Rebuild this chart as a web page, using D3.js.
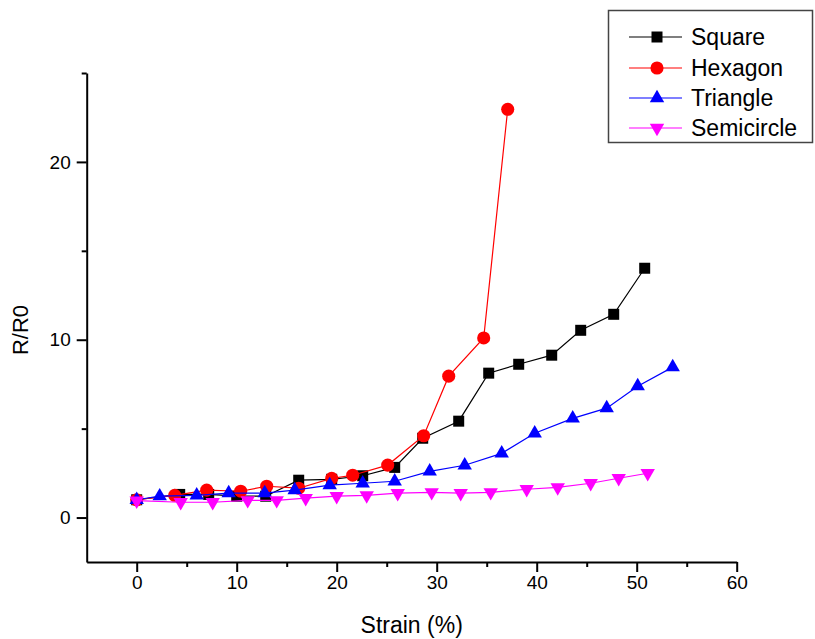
<!DOCTYPE html>
<html>
<head>
<meta charset="utf-8">
<script src="https://cdn.jsdelivr.net/npm/d3@7"></script>
<style>
  body { margin: 0; background: #fff; }
  text { font-family: 'Liberation Sans', Arial, sans-serif; fill: #000; }
  .axis path, .axis line { stroke: #000; stroke-width: 2; }
  .minor path { display: none; }
</style>
</head>
<body>
<div id="chart"></div>
<script>
// Data (strain %, R/R0)
const squareStrain = [0, 4.3, 7.2, 10.0, 12.9, 16.2, 19.5, 22.6, 25.8, 28.6, 32.2, 35.2, 38.2, 41.5, 44.4, 47.7, 50.8];
const squareR = [1.0, 1.3, 1.3, 1.2, 1.2, 2.1, 2.15, 2.35, 2.82, 4.46, 5.42, 8.12, 8.62, 9.13, 10.53, 11.43, 14.02];

const hexagonStrain = [0, 3.8, 7.0, 10.4, 13.0, 16.2, 19.5, 21.6, 25.1, 28.7, 31.2, 34.7, 37.1];
const hexagonR = [1.0, 1.25, 1.54, 1.48, 1.76, 1.65, 2.2, 2.38, 2.95, 4.6, 7.95, 10.1, 22.96];

const triangleStrain = [0, 2.3, 6.0, 9.2, 12.8, 15.8, 19.3, 22.6, 25.8, 29.3, 32.8, 36.5, 39.8, 43.6, 47.0, 50.1, 53.6];
const triangleR = [1.0, 1.2, 1.25, 1.37, 1.37, 1.54, 1.82, 1.93, 2.04, 2.6, 2.94, 3.61, 4.74, 5.58, 6.15, 7.39, 8.46];

const semicircleStrain = [0, 4.4, 7.6, 11.1, 14.0, 16.9, 20.0, 23.0, 26.1, 29.5, 32.4, 35.4, 39.0, 42.1, 45.4, 48.2, 51.1];
const semicircleR = [0.95, 0.86, 0.86, 0.97, 0.97, 1.09, 1.2, 1.25, 1.37, 1.42, 1.37, 1.42, 1.59, 1.7, 1.93, 2.21, 2.49];

const seriesNames = ['Square', 'Hexagon', 'Triangle', 'Semicircle'];
const seriesColors = ['#000000', '#ff0000', '#0000ff', '#ff00ff'];

const xMajorTicks = [0, 10, 20, 30, 40, 50, 60];
const xMinorTicks = [5, 15, 25, 35, 45, 55];
const yMajorTicks = [0, 10, 20];
const yMinorTicks = [5, 15, 25];

function draw() {
  // Dimensions
  const dimensions = {
    width: 815,
    height: 639,
    left: 86.7,
    right: 736.7,
    top: 73,
    bottom: 562,
  };

  const series = [
    { name: seriesNames[0], color: seriesColors[0], symbol: d3.symbolSquare, size: 121, rotate: 0, x: squareStrain, y: squareR },
    { name: seriesNames[1], color: seriesColors[1], symbol: d3.symbolCircle, size: 135, rotate: 0, x: hexagonStrain, y: hexagonR },
    { name: seriesNames[2], color: seriesColors[2], symbol: d3.symbolTriangle, size: 90, rotate: 0, x: triangleStrain, y: triangleR },
    { name: seriesNames[3], color: seriesColors[3], symbol: d3.symbolTriangle, size: 90, rotate: 180, x: semicircleStrain, y: semicircleR },
  ];

  const svg = d3
    .select('#chart')
    .append('svg')
    .attr('width', dimensions.width)
    .attr('height', dimensions.height);

  // Scales
  const xScale = d3.scaleLinear().domain([-5, 60]).range([dimensions.left, dimensions.right]);
  const yScale = d3.scaleLinear().domain([-2.5, 25]).range([dimensions.bottom, dimensions.top]);

  // Axes
  const xAxisGroup = svg
    .append('g')
    .attr('class', 'axis')
    .attr('transform', `translate(0, ${dimensions.bottom})`)
    .call(d3.axisBottom(xScale).tickValues(xMajorTicks).tickSize(10).tickSizeOuter(0).tickPadding(4));
  xAxisGroup.selectAll('text').style('font-size', '19px');

  svg
    .append('g')
    .attr('class', 'axis minor')
    .attr('transform', `translate(0, ${dimensions.bottom})`)
    .call(d3.axisBottom(xScale).tickValues(xMinorTicks).tickSize(5).tickFormat(''));

  const yAxisGroup = svg
    .append('g')
    .attr('class', 'axis')
    .attr('transform', `translate(${dimensions.left}, 0)`)
    .call(d3.axisLeft(yScale).tickValues(yMajorTicks).tickSize(10).tickSizeOuter(0).tickPadding(6));
  yAxisGroup.selectAll('text').style('font-size', '19px');

  svg
    .append('g')
    .attr('class', 'axis minor')
    .attr('transform', `translate(${dimensions.left}, 0)`)
    .call(d3.axisLeft(yScale).tickValues(yMinorTicks).tickSize(5).tickFormat(''));

  // Axis titles
  svg
    .append('text')
    .attr('x', (dimensions.left + dimensions.right) / 2)
    .attr('y', 633)
    .attr('text-anchor', 'middle')
    .style('font-size', '23px')
    .text('Strain (%)');

  svg
    .append('text')
    .attr('transform', 'translate(28, 330) rotate(-90)')
    .attr('text-anchor', 'middle')
    .style('font-size', '22px')
    .text('R/R0');

  // Lines and markers
  const line = d3
    .line()
    .x((d) => xScale(d[0]))
    .y((d) => yScale(d[1]));

  series.forEach((s) => {
    const points = s.x.map((v, i) => [v, s.y[i]]);
    const g = svg.append('g');

    g.append('path')
      .datum(points)
      .attr('fill', 'none')
      .attr('stroke', s.color)
      .attr('stroke-width', 1.2)
      .attr('d', line);

    g.selectAll('path.marker')
      .data(points)
      .join('path')
      .attr('class', 'marker')
      .attr('d', d3.symbol(s.symbol, s.size))
      .attr('fill', s.color)
      .attr('transform', (d) => `translate(${xScale(d[0])}, ${yScale(d[1])}) rotate(${s.rotate})`);
  });

  // Legend
  const legend = svg.append('g');
  legend
    .append('rect')
    .attr('x', 608.5)
    .attr('y', 10.5)
    .attr('width', 204)
    .attr('height', 132)
    .attr('fill', '#fff')
    .attr('stroke', '#444')
    .attr('stroke-width', 1.5);

  const rowY = [37, 68, 98, 128];
  series.forEach((s, i) => {
    const row = legend.append('g').attr('transform', `translate(0, ${rowY[i]})`);
    row.append('line').attr('x1', 629).attr('x2', 682).attr('stroke', s.color).attr('stroke-width', 1.2);
    row
      .append('path')
      .attr('d', d3.symbol(s.symbol, s.size))
      .attr('fill', s.color)
      .attr('transform', `translate(657, 0) rotate(${s.rotate})`);
    row
      .append('text')
      .attr('x', 691)
      .attr('y', 8)
      .style('font-size', '23px')
      .text(s.name);
  });
}

draw();
</script>
</body>
</html>
